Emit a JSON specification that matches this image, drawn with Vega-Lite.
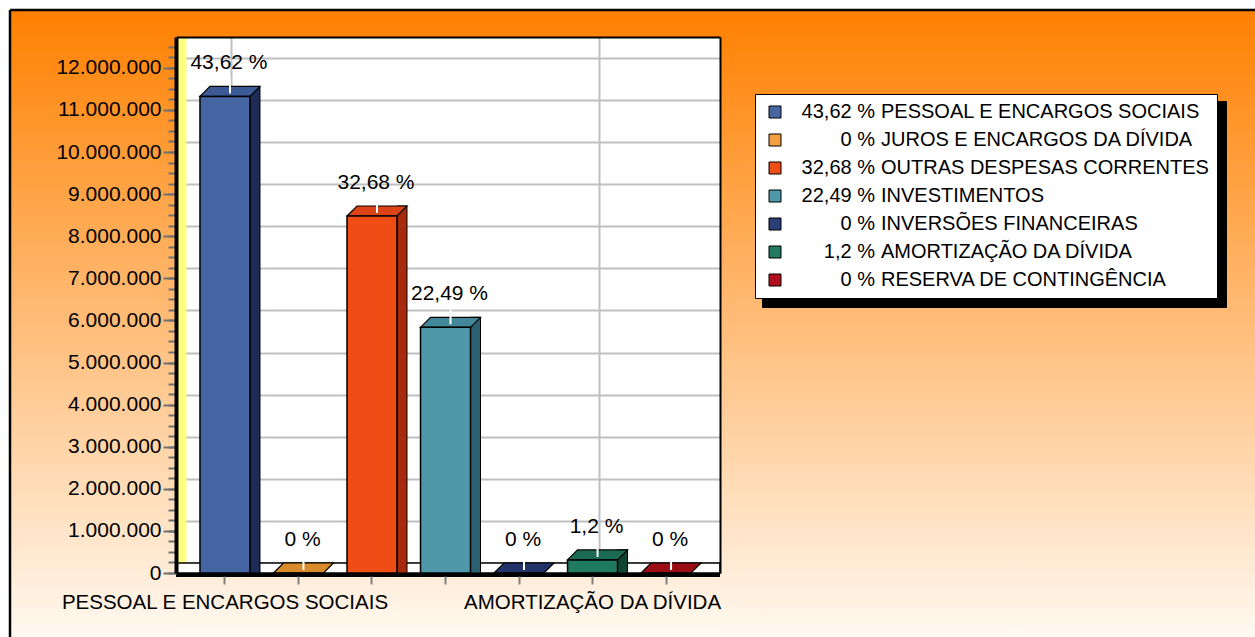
{
  "$schema": "https://vega.github.io/schema/vega-lite/v6.json",
  "autosize": {"type": "none"},
  "width": 544,
  "height": 536,
  "padding": {"left": 176, "top": 37, "right": 535, "bottom": 64},
  "background": "#ffffff",
  "config": {
    "font": "Liberation Sans",
    "locale": {"number": {"decimal": ",", "thousands": ".", "grouping": [3], "currency": ["R$", ""]}},
    "view": {"stroke": null, "fill": {"gradient": "linear", "x1": 0, "y1": 0, "x2": 0, "y2": 1, "stops": [{"offset": 0, "color": "#FF850A"}, {"offset": 1, "color": "#FFEDD8"}]}}
  },
  "data": {"values": [
    {"categoria": "PESSOAL E ENCARGOS SOCIAIS", "valor": 11320000, "rotulo": "43,62 %", "legenda": "43,62 % PESSOAL E ENCARGOS SOCIAIS"},
    {"categoria": "JUROS E ENCARGOS DA DÍVIDA", "valor": 0, "rotulo": "0 %", "legenda": "0 % JUROS E ENCARGOS DA DÍVIDA"},
    {"categoria": "OUTRAS DESPESAS CORRENTES", "valor": 8480000, "rotulo": "32,68 %", "legenda": "32,68 % OUTRAS DESPESAS CORRENTES"},
    {"categoria": "INVESTIMENTOS", "valor": 5836000, "rotulo": "22,49 %", "legenda": "22,49 % INVESTIMENTOS"},
    {"categoria": "INVERSÕES FINANCEIRAS", "valor": 0, "rotulo": "0 %", "legenda": "0 % INVERSÕES FINANCEIRAS"},
    {"categoria": "AMORTIZAÇÃO DA DÍVIDA", "valor": 311000, "rotulo": "1,2 %", "legenda": "1,2 % AMORTIZAÇÃO DA DÍVIDA"},
    {"categoria": "RESERVA DE CONTINGÊNCIA", "valor": 0, "rotulo": "0 %", "legenda": "0 % RESERVA DE CONTINGÊNCIA"}
  ]},
  "layer": [
    {
      "data": {"values": [{}]},
      "layer": [
        {
          "mark": {"type": "rect", "fill": {"gradient": "linear", "x1": 0, "y1": 0, "x2": 0, "y2": 1, "stops": [{"offset": 0, "color": "#FF8000"}, {"offset": 1, "color": "#FFFCF7"}]}},
          "encoding": {
            "x": {"datum": -0.30515, "type": "quantitative", "scale": {"domain": [0, 1], "nice": false, "zero": false}, "axis": null},
            "x2": {"datum": 0},
            "y": {"datum": 1.05037, "type": "quantitative", "scale": {"domain": [0, 1], "nice": false, "zero": false}, "axis": null},
            "y2": {"datum": -0.15}
          }
        },
        {
          "mark": {"type": "rect", "fill": {"gradient": "linear", "x1": 0, "y1": 0, "x2": 0, "y2": 1, "stops": [{"offset": 0, "color": "#FF8000"}, {"offset": 1, "color": "#FFFCF7"}]}},
          "encoding": {
            "x": {"datum": 1, "type": "quantitative"},
            "x2": {"datum": 2},
            "y": {"datum": 1.05037, "type": "quantitative"},
            "y2": {"datum": -0.15}
          }
        },
        {
          "mark": {"type": "rect", "fill": {"gradient": "linear", "x1": 0, "y1": 0, "x2": 0, "y2": 1, "stops": [{"offset": 0, "color": "#FF8000"}, {"offset": 1, "color": "#FF850A"}]}},
          "encoding": {
            "x": {"datum": 0, "type": "quantitative"},
            "x2": {"datum": 1},
            "y": {"datum": 1.05037, "type": "quantitative"},
            "y2": {"datum": 1}
          }
        },
        {
          "mark": {"type": "rect", "fill": {"gradient": "linear", "x1": 0, "y1": 0, "x2": 0, "y2": 1, "stops": [{"offset": 0, "color": "#FFEDD8"}, {"offset": 1, "color": "#FFFCF7"}]}},
          "encoding": {
            "x": {"datum": 0, "type": "quantitative"},
            "x2": {"datum": 1},
            "y": {"datum": 0, "type": "quantitative"},
            "y2": {"datum": -0.15}
          }
        },
        {
          "mark": {"type": "rule", "stroke": "#000000", "strokeWidth": 2.5},
          "encoding": {
            "x": {"datum": -0.30515, "type": "quantitative"},
            "x2": {"datum": 2},
            "y": {"datum": 1.05037, "type": "quantitative"}
          }
        },
        {
          "mark": {"type": "rule", "stroke": "#000000", "strokeWidth": 2.5},
          "encoding": {
            "x": {"datum": -0.30515, "type": "quantitative"},
            "y": {"datum": 1.05037, "type": "quantitative"},
            "y2": {"datum": -0.15}
          }
        }
      ]
    },
    {
      "layer": [
        {
          "data": {"values": [{}]},
          "mark": {"type": "rect", "fill": "#FFFFFF", "stroke": "#000000", "strokeWidth": 1.5, "yOffset": -10},
          "encoding": {
            "y": {"datum": 0, "type": "quantitative", "scale": {"domain": [0, 12731600], "nice": false}, "axis": {"orient": "left", "values": [237530, 1237530, 2237530, 3237530, 4237530, 5237530, 6237530, 7237530, 8237530, 9237530, 10237530, 11237530, 12237530], "grid": true, "gridColor": "#C0C0C0", "gridWidth": 2, "labels": false, "ticks": false, "domain": false, "title": null, "zindex": 0}},
            "y2": {"datum": 0}
          }
        },
        {
          "data": {"values": [{}]},
          "mark": {"type": "rect", "fill": "#000000", "y2Offset": 4},
          "encoding": {
            "y": {"datum": 0, "type": "quantitative", "scale": {"domain": [0, 12731600], "nice": false}, "axis": {"orient": "left", "values": [0, 250000, 500000, 750000, 1000000, 1250000, 1500000, 1750000, 2000000, 2250000, 2500000, 2750000, 3000000, 3250000, 3500000, 3750000, 4000000, 4250000, 4500000, 4750000, 5000000, 5250000, 5500000, 5750000, 6000000, 6250000, 6500000, 6750000, 7000000, 7250000, 7500000, 7750000, 8000000, 8250000, 8500000, 8750000, 9000000, 9250000, 9500000, 9750000, 10000000, 10250000, 10500000, 10750000, 11000000, 11250000, 11500000, 11750000, 12000000, 12250000, 12500000], "ticks": true, "tickSize": 8, "tickWidth": 2, "tickColor": "#707070", "labels": false, "domain": false, "grid": false, "title": null, "zindex": 1}},
            "y2": {"datum": 0}
          }
        },
        {
          "mark": {"type": "bar", "width": 10, "xOffset": 30, "yOffset": -10, "stroke": "#000000", "strokeWidth": 1},
          "encoding": {
            "x": {"field": "categoria", "type": "nominal", "sort": null, "scale": {"paddingInner": 0.32, "paddingOuter": 0.36, "align": 0.453}, "axis": {"orient": "bottom", "values": ["PESSOAL E ENCARGOS SOCIAIS", "AMORTIZAÇÃO DA DÍVIDA"], "bandPosition": 0.636, "grid": true, "gridColor": "#C0C0C0", "gridWidth": 2, "labels": false, "ticks": false, "domain": false, "title": null, "zindex": 0}},
            "y": {"field": "valor", "type": "quantitative", "scale": {"domain": [0, 12731600], "nice": false}, "axis": {"orient": "left", "offset": -5, "domain": true, "domainColor": "#FFFF80", "domainWidth": 10, "labels": false, "ticks": false, "grid": false, "title": null, "zindex": 0}},
            "y2": {"datum": 0},
            "fill": {"field": "legenda", "type": "nominal", "sort": null, "scale": {"range": ["#1E2B57", "#8A5A1A", "#A82A0C", "#2B6070", "#121C44", "#0F4434", "#600008"]}, "legend": null},
            "opacity": {"condition": {"test": "datum.valor === 0", "value": 0}, "value": 1}
          }
        },
        {
          "mark": {"type": "point", "shape": "M-0.8333,0L0.8333,0L1.1667,-0.3333L-0.5,-0.3333Z", "size": 3600, "filled": true, "opacity": 1, "stroke": "#000000", "strokeWidth": 1.2},
          "encoding": {
            "x": {"field": "categoria", "type": "nominal", "sort": null, "scale": {"paddingInner": 0.32, "paddingOuter": 0.36, "align": 0.453}, "axis": {"orient": "top", "domain": true, "domainColor": "#000000", "domainWidth": 2, "labels": false, "ticks": false, "grid": false, "title": null, "zindex": 1}},
            "y": {"field": "valor", "type": "quantitative", "scale": {"domain": [0, 12731600], "nice": false}, "axis": {"orient": "right", "domain": true, "domainColor": "#000000", "domainWidth": 2, "labels": false, "ticks": false, "grid": false, "title": null, "zindex": 1}},
            "fill": {"field": "legenda", "type": "nominal", "sort": null, "scale": {"range": ["#3C5A96", "#D98A2A", "#DC4418", "#43889A", "#22336A", "#1B6C53", "#9C0C14"]}, "legend": null}
          }
        },
        {
          "mark": {"type": "bar", "stroke": "#000000", "strokeWidth": 1.5},
          "encoding": {
            "x": {"field": "categoria", "type": "nominal", "sort": null, "scale": {"paddingInner": 0.32, "paddingOuter": 0.36, "align": 0.453}, "axis": {"orient": "bottom", "offset": 3, "domain": false, "ticks": true, "tickSize": 8, "tickWidth": 2, "tickColor": "#808080", "grid": false, "labelExpr": "(datum.value === 'PESSOAL E ENCARGOS SOCIAIS' || datum.value === 'AMORTIZAÇÃO DA DÍVIDA') ? datum.label : ''", "labelFontSize": 20.5, "labelColor": "#000000", "labelPadding": 8, "labelLimit": 0, "labelOverlap": false, "labelAngle": 0, "title": null, "zindex": 1}},
            "y": {"field": "valor", "type": "quantitative", "scale": {"domain": [0, 12731600], "nice": false}, "axis": {"orient": "left", "values": [0, 1000000, 2000000, 3000000, 4000000, 5000000, 6000000, 7000000, 8000000, 9000000, 10000000, 11000000, 12000000], "format": ",d", "domain": true, "domainColor": "#000000", "domainWidth": 4, "ticks": true, "tickSize": 13, "tickWidth": 2, "tickColor": "#707070", "labelFontSize": 21, "labelColor": "#000000", "labelPadding": 2, "grid": false, "title": null, "zindex": 1}},
            "y2": {"datum": 0},
            "fill": {"field": "legenda", "type": "nominal", "sort": null, "scale": {"range": ["#4666A3", "#F0A040", "#F04D16", "#4E98AA", "#2B3F77", "#1F7A5E", "#B0101A"]}, "legend": {"orient": "none", "legendX": 579, "legendY": 57, "title": null, "padding": 8, "symbolType": "square", "symbolSize": 144, "symbolStrokeColor": "#000000", "symbolStrokeWidth": 1, "symbolOffset": 2, "labelFontSize": 20, "labelColor": "#000000", "labelOffset": 90, "labelAlign": "right", "labelLimit": 600, "rowPadding": 8, "labelExpr": "split(datum.label, ' % ')[0] + ' %'", "zindex": 3}}
          }
        },
        {
          "mark": {"type": "rule", "stroke": "#FFFFFF", "strokeWidth": 2, "xOffset": 5, "yOffset": -18, "y2Offset": -3},
          "encoding": {
            "x": {"field": "categoria", "type": "nominal", "sort": null, "scale": {"paddingInner": 0.32, "paddingOuter": 0.36, "align": 0.453}, "axis": null},
            "y": {"field": "valor", "type": "quantitative", "scale": {"domain": [0, 12731600], "nice": false}, "axis": null},
            "y2": {"field": "valor"}
          }
        },
        {
          "mark": {"type": "text", "fontSize": 21, "color": "#000000", "baseline": "middle", "dx": 4, "dy": -33},
          "encoding": {
            "x": {"field": "categoria", "type": "nominal", "sort": null, "scale": {"paddingInner": 0.32, "paddingOuter": 0.36, "align": 0.453}, "axis": null},
            "y": {"field": "valor", "type": "quantitative", "scale": {"domain": [0, 12731600], "nice": false}, "axis": null},
            "text": {"field": "rotulo"}
          }
        },
        {
          "mark": {"type": "point", "filled": true, "opacity": 0, "size": 0},
          "encoding": {
            "fill": {"field": "legenda", "type": "nominal", "sort": null, "scale": {"range": ["#FFFFFF"]}, "legend": {"orient": "none", "legendX": 579, "legendY": 57, "title": null, "fillColor": "#FFFFFF", "strokeColor": "#000000", "padding": 8, "symbolType": "square", "symbolSize": 144, "symbolOpacity": 0, "symbolOffset": 2, "labelFontSize": 20, "labelColor": "#000000", "labelOffset": 96, "labelLimit": 600, "rowPadding": 8, "labelExpr": "split(datum.label, ' % ')[1]", "zindex": 2}}
          }
        },
        {
          "mark": {"type": "square", "filled": true, "opacity": 0, "size": 0},
          "encoding": {
            "fill": {"field": "legenda", "type": "nominal", "sort": null, "scale": {"range": ["#000000"]}, "legend": {"orient": "none", "legendX": 586, "legendY": 64, "title": null, "fillColor": "#000000", "strokeColor": "#000000", "padding": 8, "symbolType": "square", "symbolSize": 441, "symbolOffset": 2, "labelFontSize": 20, "labelColor": "#000000", "labelOffset": 423, "labelLimit": 600, "rowPadding": 6, "labelExpr": "''", "zindex": 1}}
          }
        }
      ],
      "resolve": {"scale": {"fill": "independent"}, "axis": {"x": "independent", "y": "independent"}}
    }
  ],
  "resolve": {"scale": {"x": "independent", "y": "independent"}, "axis": {"x": "independent", "y": "independent"}}
}
